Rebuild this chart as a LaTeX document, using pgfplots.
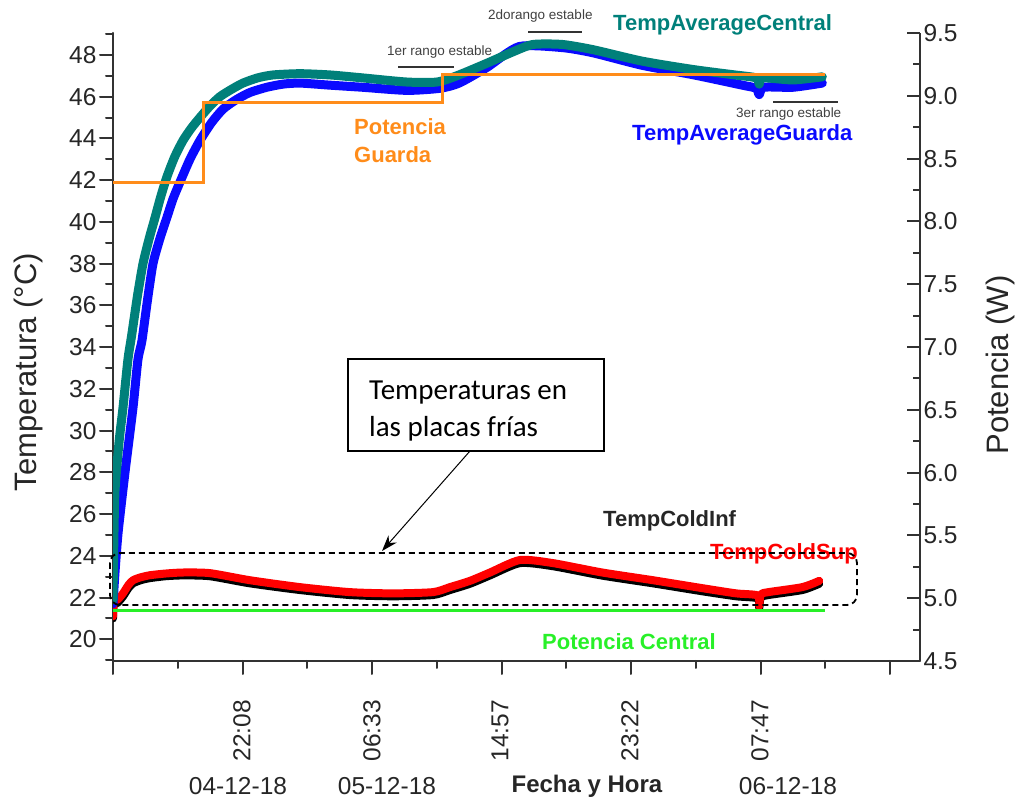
\documentclass[border=0pt]{standalone}
\usepackage{fontspec}
\setmainfont{Liberation Sans}
\newfontfamily\calibri{Carlito}
\usepackage{pgfplots}
\pgfplotsset{compat=1.18}
\usetikzlibrary{arrows.meta}
\definecolor{cteal}{RGB}{0,128,122}
\definecolor{cblue}{RGB}{10,10,255}
\definecolor{corange}{RGB}{255,140,26}
\definecolor{cgreen}{RGB}{40,240,40}
\definecolor{cred}{RGB}{255,0,0}
\definecolor{caxis}{RGB}{50,50,50}
\newcommand\fsz[1]{\fontsize{#1}{#1}\selectfont}
\begin{document}
\begin{tikzpicture}
\pgfplotsset{
  common/.style={
    scale only axis, width=807pt, height=628pt,
    at={(0pt,0pt)}, anchor=south west,
    xmin=0, xmax=52.45,
    axis line style={-, line width=2pt, caxis},
    tick style={line width=2pt, caxis},
    major tick length=13pt, minor tick length=7pt,
    /pgf/number format/assume math mode=true,
    ticklabel style={font=\fsz{24.5}, text=black!85},
  }
}
\begin{axis}[common,
  ymin=18.96, ymax=49.05,
  axis x line*=bottom, axis y line*=left,
  tick align=outside,
  ytick={20,22,...,48}, minor ytick={19,21,...,49},
  xtick={0,8.4167,16.8333,25.25,33.6667,42.0833,50.5},
  xticklabels={,,,,,,},
  minor xtick={4.2083,12.625,21.0417,29.4583,37.875,46.2917},
  line join=round, line cap=round,
]
% TempColdInf
\addplot[black, line width=8pt, smooth, tension=0.4] table {
0 21.0
0.05 21.65
0.3 21.75
0.65 22.05
1.0 22.45
1.3 22.68
1.8 22.83
2.4 22.93
3.4 23.02
4.55 23.06
6.3 23.02
8.9 22.68
12.15 22.36
15.4 22.12
18.2 22.06
20.8 22.12
21.9 22.36
23.2 22.66
24.5 23.06
26.45 23.65
28.6 23.5
31.8 23.05
35.1 22.68
38.3 22.3
40.5 22.06
41.9 21.96
42.0 21.5
42.1 22.0
42.6 22.12
44.8 22.36
45.9 22.66
};
% TempColdSup
\addplot[cred, line width=8pt, smooth, tension=0.4] table {
0 21.1
0.05 21.8
0.3 21.9
0.65 22.2
1.0 22.6
1.3 22.83
1.8 22.97
2.4 23.07
3.4 23.15
4.55 23.2
6.3 23.17
8.9 22.83
12.15 22.5
15.4 22.26
18.2 22.2
20.8 22.26
21.9 22.5
23.2 22.8
24.5 23.2
26.45 23.8
28.6 23.65
31.8 23.2
35.1 22.83
38.3 22.45
40.5 22.2
41.9 22.1
42.0 21.6
42.1 22.15
42.6 22.26
44.8 22.5
45.9 22.8
};
% TempAverageGuarda
\addplot[cblue, line width=9pt, smooth, tension=0.4] table {
0 21.7
0.13 23.2
0.33 25.1
0.78 28.0
1.3 31.1
1.62 33.4
1.88 34.3
2.25 36.3
2.6 38.0
3.05 39.2
3.5 40.2
3.9 41.1
4.35 41.9
5.0 43.0
5.65 43.9
6.4 44.75
7.15 45.4
8.0 45.85
8.9 46.2
10.0 46.45
11.05 46.6
12.15 46.65
14.1 46.55
16.2 46.45
19.1 46.3
21.25 46.4
22.5 46.65
24.3 47.4
26.4 48.4
29.2 48.35
31.2 48.1
34.4 47.5
37.7 47.05
40.9 46.55
41.8 46.4
42.0 46.1
42.3 46.45
44.2 46.45
46.1 46.65
};
% TempAverageCentral
\addplot[cteal, line width=9pt, smooth, tension=0.4] table {
0 21.9
0.05 24.5
0.13 27.1
0.4 29.5
0.65 31.1
0.97 33.4
1.2 34.5
1.6 36.5
1.95 38.0
2.35 39.2
2.73 40.2
3.1 41.2
3.5 42.15
4.0 43.1
4.55 43.9
5.1 44.5
5.65 45.0
6.3 45.55
6.95 46.0
7.7 46.35
8.45 46.65
9.4 46.9
10.4 47.04
12.15 47.1
14.1 47.04
16.2 46.9
19.1 46.7
21.05 46.7
22.35 47.0
24.3 47.6
26.0 48.15
27.3 48.5
29.2 48.5
31.2 48.25
34.4 47.7
37.7 47.3
40.3 47.05
41.8 46.9
42.0 46.6
42.2 46.9
44.2 46.8
46.1 46.95
};
\end{axis}
\begin{axis}[common,
  ymin=4.5, ymax=9.5,
  axis y line*=right, axis x line=none,
  tick align=inside,
  ytick={4.5,5,...,9.5}, minor y tick num=1,
  yticklabel style={/pgf/number format/.cd, fixed, fixed zerofill, precision=1},
]
% Potencia Central
\addplot[cgreen, line width=3pt] table {
0 4.90
46.3 4.90
};
% Potencia Guarda
\addplot[corange, line width=3pt] table {
0 8.306
5.85 8.306
5.85 8.943
21.44 8.943
21.44 9.166
46.3 9.166
};
\end{axis}
\begin{scope}[x=1pt,y=-1pt,shift={(-113pt,661pt)}]
\foreach \px/\lab in {242/22:08, 372/06:33, 500/14:57, 630/23:22, 760/07:47}
  \node[rotate=90, anchor=east, inner sep=0, font=\fsz{24.5}, text=black!85] at (\px,700) {\lab};
\node[rotate=90, font=\fsz{31}, text=black!85] at (28,372) {Temperatura (°C)};
\node[rotate=90, font=\fsz{31}, text=black!85] at (1000,365) {Potencia (W)};
\node[font=\fsz{24.5}, text=black!85] at (238,786) {04-12-18};
\node[font=\fsz{24.5}, text=black!85] at (387,786) {05-12-18};
\node[font=\fsz{24.5}, text=black!85] at (788,786) {06-12-18};
\node[font=\bfseries\fsz{24}, text=black!85] at (587,786) {Fecha y Hora};
% labels
\node[anchor=base west, inner sep=0, font=\bfseries\fsz{22}, text=cteal] at (613,31) {TempAverageCentral};
\node[anchor=base west, inner sep=0, font=\bfseries\fsz{22}, text=cblue] at (632,141) {TempAverageGuarda};
\node[anchor=base west, inner sep=0, font=\bfseries\fsz{22}, text=corange] at (354,135) {Potencia};
\node[anchor=base west, inner sep=0, font=\bfseries\fsz{22}, text=corange] at (354,163) {Guarda};
\node[anchor=base west, inner sep=0, font=\bfseries\fsz{22}, text=black!85] at (603,527) {TempColdInf};
\node[anchor=base west, inner sep=0, font=\bfseries\fsz{22}, text=cred] at (710,560) {TempColdSup};
\node[anchor=base west, inner sep=0, font=\bfseries\fsz{22}, text=cgreen] at (542,650) {Potencia Central};
\node[anchor=base west, inner sep=0, font=\fsz{13.5}, text=black!75] at (387,56) {1er rango estable};
\node[anchor=base west, inner sep=0, font=\fsz{13.5}, text=black!75] at (488,20) {2dorango estable};
\node[anchor=base west, inner sep=0, font=\fsz{13.5}, text=black!75] at (736,118) {3er rango estable};
\draw[line width=2pt, black!80] (398,67) -- (454,67);
\draw[line width=2pt, black!80] (528,32) -- (582,32);
\draw[line width=2pt, black!80] (773,102) -- (838,102);
% cold plates box
\draw[line width=1.8pt, rounded corners=10pt, dash pattern=on 6pt off 4pt] (110,553) rectangle (857,605);
\draw[line width=1.2pt, fill=white] (348,359) rectangle (604,451);
\node[anchor=base west, inner sep=0, font=\calibri\fsz{29}] at (369,400) {Temperaturas en};
\node[anchor=base west, inner sep=0, font=\calibri\fsz{29}] at (369,437) {las placas frías};
\draw[line width=1pt, -{Stealth[length=16pt,width=11pt]}] (470,451) -- (382,551);
\end{scope}
\pgfresetboundingbox
\path[use as bounding box] (-113pt,-141pt) rectangle (909pt,661pt);
\end{tikzpicture}
\end{document}
